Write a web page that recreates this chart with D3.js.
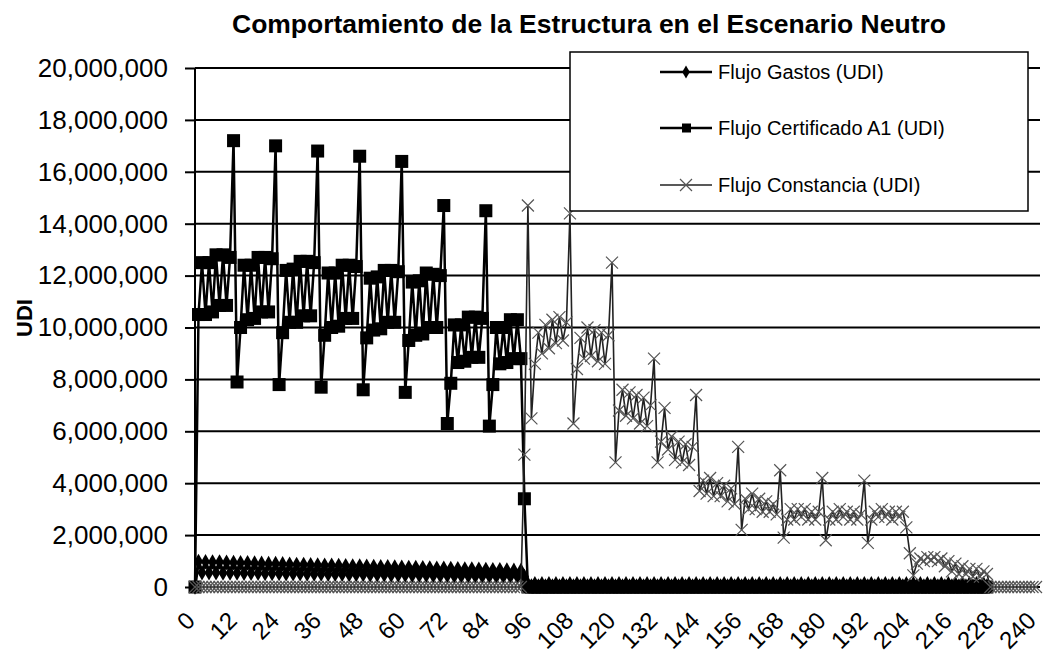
<!DOCTYPE html>
<html>
<head>
<meta charset="utf-8">
<script src="https://cdn.jsdelivr.net/npm/d3@7/dist/d3.min.js"></script>
<style>
  body { margin: 0; background: #fff; }
  text { font-family: Arial, "Liberation Sans", sans-serif; fill: #000; }
</style>
</head>
<body>
<div id="chart"></div>
<script>
// valores en millones de UDI, un valor por periodo (0, 1, 2, ...)
const gastosMill = [
  0,
  0.98, 0.55, 0.97, 0.55, 0.96, 0.55, 0.96, 0.54, 0.95, 0.54, 0.94, 0.54,
  0.93, 0.53, 0.93, 0.53, 0.92, 0.53, 0.91, 0.52, 0.90, 0.52, 0.90, 0.52,
  0.89, 0.51, 0.88, 0.51, 0.87, 0.51, 0.87, 0.50, 0.86, 0.50, 0.85, 0.50,
  0.84, 0.49, 0.84, 0.49, 0.83, 0.49, 0.82, 0.48, 0.81, 0.48, 0.81, 0.48,
  0.80, 0.47, 0.79, 0.47, 0.78, 0.47, 0.78, 0.46, 0.77, 0.46, 0.76, 0.46,
  0.75, 0.45, 0.75, 0.45, 0.74, 0.45, 0.73, 0.44, 0.72, 0.44, 0.72, 0.44,
  0.71, 0.43, 0.70, 0.43, 0.69, 0.43, 0.69, 0.42, 0.68, 0.42, 0.67, 0.42,
  0.66, 0.41, 0.66, 0.41, 0.65, 0.41, 0.64, 0.40, 0.63, 0.40,
  0.12, 0.04, 0.12, 0.04, 0.12, 0.04, 0.12, 0.04, 0.12, 0.04, 0.12, 0.04,
  0.12, 0.04, 0.12, 0.04, 0.12, 0.04, 0.12, 0.04, 0.12, 0.04, 0.12, 0.04,
  0.12, 0.04, 0.12, 0.04, 0.12, 0.04, 0.12, 0.04, 0.12, 0.04, 0.12, 0.04,
  0.12, 0.04, 0.12, 0.04, 0.12, 0.04, 0.12, 0.04, 0.12, 0.04, 0.12, 0.04,
  0.12, 0.04, 0.12, 0.04, 0.12, 0.04, 0.12, 0.04, 0.12, 0.04, 0.12, 0.04,
  0.12, 0.04, 0.12, 0.04, 0.12, 0.04, 0.12, 0.04, 0.12, 0.04, 0.12, 0.04,
  0.12, 0.04, 0.12, 0.04, 0.12, 0.04, 0.12, 0.04, 0.12, 0.04, 0.12, 0.04,
  0.12, 0.04, 0.12, 0.04, 0.12, 0.04, 0.12, 0.04, 0.12, 0.04, 0.12, 0.04,
  0.12, 0.04, 0.12, 0.04, 0.12, 0.04, 0.12, 0.04, 0.12, 0.04, 0.12, 0.04,
  0.12, 0.04, 0.12, 0.04, 0.12, 0.04, 0.12, 0.04, 0.12, 0.04, 0.12, 0.04,
  0.12, 0.04, 0.12, 0.04, 0.12, 0.04, 0.12, 0.04, 0.12, 0.04, 0.12, 0.04
]

const certificadoMill = [
  0,
  10.5, 12.5, 10.5, 12.5, 10.6, 12.8, 10.85, 12.8, 10.85, 12.7, 17.2, 7.9,
  10.0, 12.4, 10.3, 12.4, 10.35, 12.7, 10.6, 12.7, 10.6, 12.65, 17.0, 7.8,
  9.8, 12.2, 10.2, 12.25, 10.2, 12.55, 10.45, 12.55, 10.45, 12.5, 16.8, 7.7,
  9.7, 12.1, 10.0, 12.1, 10.05, 12.4, 10.35, 12.4, 10.35, 12.35, 16.6, 7.6,
  9.6, 11.9, 9.9, 11.95, 9.95, 12.2, 10.2, 12.2, 10.2, 12.15, 16.4, 7.5,
  9.5, 11.75, 9.7, 11.8, 9.75, 12.1, 10.0, 12.05, 10.0, 12.0, 14.7, 6.3,
  7.85, 10.1, 8.65, 10.1, 8.7, 10.4, 8.85, 10.4, 8.85, 10.35, 14.5, 6.2,
  7.8, 10.0, 8.6, 10.0, 8.65, 10.3, 8.8, 10.3, 8.8, 3.4,
  0, 0, 0, 0, 0, 0, 0, 0, 0, 0, 0, 0,
  0, 0, 0, 0, 0, 0, 0, 0, 0, 0, 0, 0,
  0, 0, 0, 0, 0, 0, 0, 0, 0, 0, 0, 0,
  0, 0, 0, 0, 0, 0, 0, 0, 0, 0, 0, 0,
  0, 0, 0, 0, 0, 0, 0, 0, 0, 0, 0, 0,
  0, 0, 0, 0, 0, 0, 0, 0, 0, 0, 0, 0,
  0, 0, 0, 0, 0, 0, 0, 0, 0, 0, 0, 0,
  0, 0, 0, 0, 0, 0, 0, 0, 0, 0, 0, 0,
  0, 0, 0, 0, 0, 0, 0, 0, 0, 0, 0, 0,
  0, 0, 0, 0, 0, 0, 0, 0, 0, 0, 0, 0,
  0, 0, 0, 0, 0, 0, 0, 0, 0, 0, 0, 0
]

const constanciaMill = [
  0, 0, 0, 0, 0, 0, 0, 0, 0, 0, 0, 0,
  0, 0, 0, 0, 0, 0, 0, 0, 0, 0, 0, 0,
  0, 0, 0, 0, 0, 0, 0, 0, 0, 0, 0, 0,
  0, 0, 0, 0, 0, 0, 0, 0, 0, 0, 0, 0,
  0, 0, 0, 0, 0, 0, 0, 0, 0, 0, 0, 0,
  0, 0, 0, 0, 0, 0, 0, 0, 0, 0, 0, 0,
  0, 0, 0, 0, 0, 0, 0, 0, 0, 0, 0, 0,
  0, 0, 0, 0, 0, 0, 0, 0, 0, 0,
  5.1, 14.7, 6.5,
  8.6, 9.8, 9.0, 10.1, 9.2, 10.3, 9.4, 10.4, 9.5, 10.2, 14.4, 6.3,
  8.4, 9.6, 8.8, 10.0, 8.9, 9.9, 8.7, 9.8, 8.6, 9.7, 12.5, 4.8,
  6.8, 7.6, 6.6, 7.5, 6.5, 7.4, 6.3, 7.3, 6.2, 7.0, 8.8, 4.8,
  5.6, 6.9, 5.3, 5.8, 4.9, 5.6, 4.8, 5.5, 4.7, 5.4, 7.4, 3.7,
  4.1, 3.6, 4.2, 3.5, 4.0, 3.5, 3.9, 3.3, 3.8, 3.2, 5.4, 2.2,
  3.4, 3.0, 3.6, 3.0, 3.4, 2.9, 3.3, 2.9, 3.2, 2.8, 4.5, 1.9,
  2.6, 3.0, 2.6, 3.0, 2.7, 3.0, 2.6, 2.9, 2.6, 2.9, 4.2, 1.8,
  2.6, 2.9, 2.6, 3.0, 2.7, 2.9, 2.6, 2.9, 2.6, 2.8, 4.1, 1.7,
  2.6, 2.9, 2.7, 3.0, 2.7, 2.9, 2.6, 2.9, 2.7, 2.9, 2.3, 1.3,
  0.45, 0.9, 1.1, 1.0, 1.15, 1.05, 1.15, 1.0, 1.1, 0.8, 1.0, 0.6,
  0.9, 0.5, 0.8, 0.5, 0.7, 0.4, 0.7, 0.4, 0.6, 0.5,
  0, 0, 0, 0, 0, 0, 0, 0, 0, 0, 0, 0, 0, 0
]

const xTicks = [0, 12, 24, 36, 48, 60, 72, 84, 96, 108, 120, 132, 144, 156, 168, 180, 192, 204, 216, 228, 240]
const yTicks = [0, 2e6, 4e6, 6e6, 8e6, 10e6, 12e6, 14e6, 16e6, 18e6, 20e6]

const titulo = 'Comportamiento de la Estructura en el Escenario Neutro'
const leyenda = ['Flujo Gastos (UDI)', 'Flujo Certificado A1 (UDI)', 'Flujo Constancia (UDI)']

const width = 1044
const height = 667
const plot = { left: 195, right: 1040, top: 68, bottom: 587 }

const svg = d3.select('#chart')
  .append('svg')
  .attr('width', width)
  .attr('height', height)

const x = d3.scaleLinear().domain([0, 240]).range([plot.left, 1036])
const y = d3.scaleLinear().domain([0, 20e6]).range([plot.bottom, plot.top])

const toPoints = arr => arr.map((v, i) => ({ i, v: v * 1e6 }))

// título
svg.append('text')
  .attr('x', 232)
  .attr('y', 33)
  .attr('font-size', '25px')
  .attr('font-weight', 'bold')
  .attr('textLength', 714)
  .attr('lengthAdjust', 'spacingAndGlyphs')
  .text(titulo)

// líneas de división horizontales
svg.append('g')
  .selectAll('line')
  .data(yTicks)
  .join('line')
  .attr('x1', plot.left)
  .attr('x2', plot.right)
  .attr('y1', d => y(d))
  .attr('y2', d => y(d))
  .attr('stroke', '#000')
  .attr('stroke-width', 2)

// eje Y
const yAxis = svg.append('g')
  .attr('transform', `translate(${plot.left},0)`)
  .call(d3.axisLeft(y).tickValues(yTicks).tickSize(10).tickPadding(17).tickFormat(d3.format(',')))
yAxis.select('.domain').attr('stroke-width', 2).attr('d', `M0,${plot.bottom}V${plot.top}`)
yAxis.selectAll('.tick line').attr('stroke-width', 2)
yAxis.selectAll('.tick text')
  .attr('font-size', '26px')
  .attr('font-family', 'Arial, "Liberation Sans", sans-serif')
  .attr('fill', '#000')

// título eje Y
svg.append('text')
  .attr('transform', 'translate(32,318) rotate(-90)')
  .attr('text-anchor', 'middle')
  .attr('font-size', '22px')
  .attr('font-weight', 'bold')
  .text('UDI')

// eje X
const xAxis = svg.append('g')
  .attr('transform', `translate(0,${plot.bottom})`)
  .call(d3.axisBottom(x).tickValues(xTicks).tickSize(0).tickPadding(0).tickFormat(d3.format('d')))
xAxis.select('.domain').remove()
xAxis.selectAll('.tick text')
  .attr('font-size', '24px')
  .attr('font-family', 'Arial, "Liberation Sans", sans-serif')
  .attr('fill', '#000')
  .attr('text-anchor', 'end')
  .attr('dy', null)
  .attr('y', null)
  .attr('transform', 'translate(1,35) rotate(-45)')

const line = d3.line().x(d => x(d.i)).y(d => y(d.v))

// Flujo Gastos
const gastos = toPoints(gastosMill)
svg.append('path')
  .datum(gastos)
  .attr('d', line)
  .attr('fill', 'none')
  .attr('stroke', '#000')
  .attr('stroke-width', 3)
svg.append('g')
  .selectAll('path')
  .data(gastos)
  .join('path')
  .attr('d', d3.symbol(d3.symbolDiamond, 70))
  .attr('transform', d => `translate(${x(d.i)},${y(d.v)})`)
  .attr('fill', '#000')

// Flujo Certificado A1
const certificado = toPoints(certificadoMill)
svg.append('path')
  .datum(certificado)
  .attr('d', line)
  .attr('fill', 'none')
  .attr('stroke', '#000')
  .attr('stroke-width', 2.5)
svg.append('g')
  .selectAll('rect')
  .data(certificado)
  .join('rect')
  .attr('x', d => x(d.i) - 6.5)
  .attr('y', d => y(d.v) - 6.5)
  .attr('width', 13)
  .attr('height', 13)
  .attr('fill', '#000')

// Flujo Constancia
const constancia = toPoints(constanciaMill)
const cruz = 'M-6,-6L6,6M-6,6L6,-6'
svg.append('path')
  .datum(constancia)
  .attr('d', line)
  .attr('fill', 'none')
  .attr('stroke', '#222')
  .attr('stroke-width', 1.6)
svg.append('g')
  .selectAll('path')
  .data(constancia)
  .join('path')
  .attr('d', cruz)
  .attr('transform', d => `translate(${x(d.i)},${y(d.v)})`)
  .attr('stroke', '#555')
  .attr('stroke-width', 1.2)
  .attr('fill', 'none')

// leyenda
const legend = svg.append('g')
legend.append('rect')
  .attr('x', 570)
  .attr('y', 52)
  .attr('width', 458)
  .attr('height', 159)
  .attr('fill', '#fff')
  .attr('stroke', '#000')
  .attr('stroke-width', 1.5)

const legendY = [72, 128, 185]
const legendItem = legend.selectAll('g.item')
  .data(leyenda)
  .join('g')
  .attr('class', 'item')
  .attr('transform', (d, i) => `translate(0,${legendY[i]})`)

legendItem.append('line')
  .attr('x1', 660)
  .attr('x2', 712)
  .attr('stroke', (d, i) => i === 2 ? '#222' : '#000')
  .attr('stroke-width', (d, i) => i === 2 ? 1.6 : 2.5)

legendItem.filter((d, i) => i === 0).append('path')
  .attr('d', d3.symbol(d3.symbolDiamond, 50))
  .attr('transform', 'translate(686,0)')
  .attr('fill', '#000')
legendItem.filter((d, i) => i === 1).append('rect')
  .attr('x', 682).attr('y', -4.5).attr('width', 9).attr('height', 9)
  .attr('fill', '#000')
legendItem.filter((d, i) => i === 2).append('path')
  .attr('d', cruz)
  .attr('transform', 'translate(686,0)')
  .attr('stroke', '#555')
  .attr('stroke-width', 1.2)

legendItem.append('text')
  .attr('x', 718)
  .attr('dy', '0.35em')
  .attr('font-size', '20px')
  .text(d => d)
</script>
</body>
</html>
